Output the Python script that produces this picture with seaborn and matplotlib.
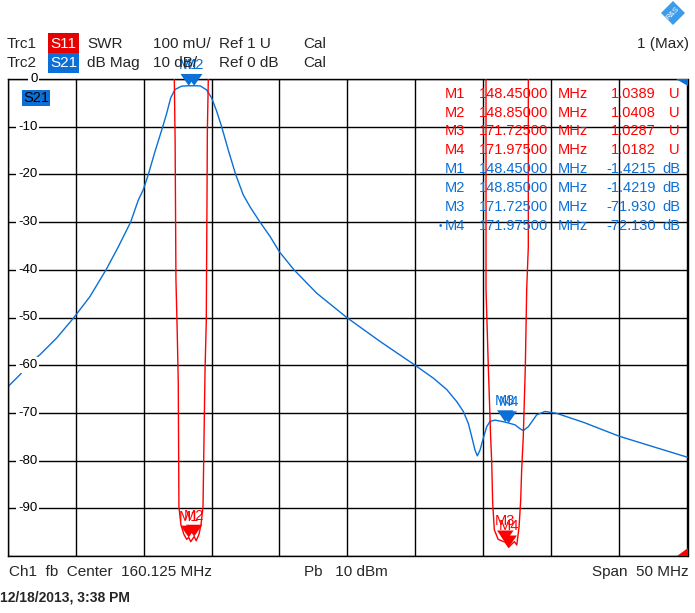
import numpy as np
import pandas as pd
import matplotlib
matplotlib.use('Agg')
import matplotlib.pyplot as plt
import seaborn as sns
from matplotlib.patches import Polygon, Rectangle

# ---- data ----
# Trc2: S21 dB Mag (frequency in MHz, level in dB)
s21_freq = [135.125, 136.04, 136.6, 137.51, 138.74, 140.01, 141.19, 142.37, 143.27, 144.18,
            144.74, 145.11, 145.48, 145.97, 146.54, 146.83, 147.12, 147.44, 147.93, 148.45,
            148.85, 149.3, 149.77, 150.14, 150.51, 150.87, 151.36, 151.9, 152.46, 152.96,
            153.69, 154.43, 155.11, 156.19, 157.86, 160.07, 162.51, 165.09, 166.43, 167.42,
            168.15, 168.64, 169.01, 169.26, 169.5, 169.67, 169.87, 170.11, 170.36, 170.6,
            170.97, 171.3, 171.725, 171.975, 172.44, 172.8, 173.05, 173.42, 174.04, 174.65,
            175.51, 177.5, 180.11, 182.5, 185.125]
s21_db = [-64.6, -62.0, -60.0, -57.8, -54.3, -50.0, -45.6, -40.0, -35.2, -30.0,
          -25.4, -23.2, -20.0, -15.2, -10.0, -7.2, -4.0, -2.2, -1.5, -1.42,
          -1.42, -1.45, -2.3, -4.0, -6.8, -10.0, -14.9, -20.0, -24.3, -26.8,
          -30.0, -33.0, -36.2, -40.0, -44.9, -50.0, -55.0, -60.0, -62.7, -65.1,
          -67.6, -69.7, -72.2, -75.0, -77.8, -79.0, -77.8, -75.3, -72.9, -71.8,
          -71.5, -71.7, -71.93, -72.13, -72.5, -73.3, -73.7, -72.9, -70.4, -69.7,
          -70.1, -72.0, -74.9, -77.0, -79.3]

# Trc1: S11 SWR, two notches (values above 2 U leave the screen)
swr1_freq = [147.3, 147.39, 147.45, 147.51, 147.61, 147.68, 147.73, 147.88, 148.1, 148.3,
             148.45, 148.6, 148.85, 149.0, 149.2, 149.35, 149.5, 149.65, 149.74, 149.79,
             149.82, 149.89, 149.98]
swr1_val = [2.6, 2.0, 1.87, 1.58, 1.463, 1.365, 1.103, 1.065, 1.045, 1.035,
            1.0389, 1.03, 1.0408, 1.032, 1.045, 1.065, 1.103, 1.39, 1.49, 1.73,
            1.89, 2.0, 2.6]
swr2_freq = [170.25, 170.31, 170.31, 170.48, 170.65, 170.73, 170.8, 170.92, 171.2, 171.45,
             171.725, 171.95, 171.975, 172.2, 172.4, 172.57, 172.74, 172.86, 172.93, 173.05,
             173.2, 173.3, 173.42, 173.42, 173.5]
swr2_val = [2.6, 2.0, 1.558, 1.396, 1.25, 1.195, 1.111, 1.055, 1.035, 1.032,
            1.0287, 1.0195, 1.0182, 1.025, 1.03, 1.023, 1.061, 1.117, 1.18, 1.25,
            1.396, 1.558, 1.648, 2.0, 2.6]

# markers
mk_names = ['M1', 'M2', 'M3', 'M4']
mk_freq = [148.45, 148.85, 171.725, 171.975]
mk_swr = [1.0389, 1.0408, 1.0287, 1.0182]
mk_db = [-1.4215, -1.4219, -71.930, -72.130]
mk_freq_txt = ['148.45000', '148.85000', '171.72500', '171.97500']
mk_swr_txt = ['1.0389', '1.0408', '1.0287', '1.0182']
mk_db_txt = ['-1.4215', '-1.4219', '-71.930', '-72.130']

ytick_vals = [0, -10, -20, -30, -40, -50, -60, -70, -80, -90]

RED = '#ff0000'
BLUE = '#0a6fd6'

sns.set_style('white')
plt.rcParams['font.family'] = ['Liberation Sans', 'DejaVu Sans']

W, H = 695, 613
fig = plt.figure(figsize=(W / 100, H / 100), dpi=100)
fig.patch.set_facecolor('white')
x0, x1, yt, yb = 7.5, 687.5, 79, 556
ax = fig.add_axes([x0 / W, 1 - yb / H, (x1 - x0) / W, (yb - yt) / H])
ax.set_xlim(135.125, 185.125)
ax.set_ylim(-100, 0)
ax.set_xticks(np.arange(135.125, 185.2, 5))
ax.set_yticks(np.arange(-100, 1, 10))
ax.grid(True, color='black', lw=1)
ax.tick_params(length=0, labelbottom=False, labelleft=False)
for sp in ax.spines.values():
    sp.set_color('black')
    sp.set_linewidth(1)

ax2 = ax.twinx()
ax2.set_ylim(1, 2)
ax2.set_yticks([])
for sp in ax2.spines.values():
    sp.set_visible(False)

s21 = pd.DataFrame({'f': s21_freq, 'db': s21_db})
sns.lineplot(data=s21, x='f', y='db', ax=ax, color=BLUE, lw=1.0, estimator=None, sort=False)
n1 = pd.DataFrame({'f': swr1_freq, 'swr': swr1_val})
n2 = pd.DataFrame({'f': swr2_freq, 'swr': swr2_val})
sns.lineplot(data=n1, x='f', y='swr', ax=ax2, color=RED, lw=1.0, estimator=None, sort=False)
sns.lineplot(data=n2, x='f', y='swr', ax=ax2, color=RED, lw=1.0, estimator=None, sort=False)

# downward triangle with its tip on the data point
tri = [(0, 0), (-0.7, 1), (0.7, 1), (0, 0)]
mk = pd.DataFrame({'f': mk_freq, 'db': mk_db, 'swr': mk_swr})
sns.scatterplot(data=mk, x='f', y='db', ax=ax, marker=tri, s=17 ** 2, color=BLUE,
                edgecolor='none', zorder=5, clip_on=False)
sns.scatterplot(data=mk, x='f', y='swr', ax=ax2, marker=tri, s=17 ** 2, color=RED,
                edgecolor='none', zorder=5, clip_on=False)
ax.set_xlabel('')
ax.set_ylabel('')
ax2.set_xlabel('')
ax2.set_ylabel('')
ax2.set_xlim(ax.get_xlim())
for name, f, d, s in zip(mk_names, mk_freq, mk_db, mk_swr):
    ax.annotate(name, (f, d), xytext=(0, 10), textcoords='offset points', ha='center',
                va='bottom', color=BLUE, fontsize=10.5, annotation_clip=False, zorder=6)
    ax2.annotate(name, (f, s), xytext=(0, 10), textcoords='offset points', ha='center',
                 va='bottom', color=RED, fontsize=10.5, annotation_clip=False, zorder=6)

# level labels inside the grid
for v in ytick_vals:
    ax.annotate(str(v), xy=(0, v), xycoords=('axes fraction', 'data'),
                xytext=(30, 0), textcoords='offset pixels', ha='right', va='center',
                fontsize=9.5, color='black', zorder=7,
                bbox=dict(boxstyle='square,pad=0.15', fc='white', ec='none'))

# S21 tag in plot
ax.text((36 - x0) / (x1 - x0), 1 - (98 - yt) / (yb - yt), 'S21',
        transform=ax.transAxes, ha='center', va='center', fontsize=10.5, color='black',
        zorder=7, bbox=dict(boxstyle='square,pad=0.1', fc=BLUE, ec='none'))

# marker table
rows_y = [94, 112.7, 131, 150, 169, 188.3, 206.7, 225.7]
for i in range(4):
    for y, col, val, unit in [(rows_y[i], RED, mk_swr_txt[i], 'U'),
                              (rows_y[i + 4], BLUE, mk_db_txt[i], 'dB')]:
        fig.text(445 / W, 1 - y / H, mk_names[i], color=col, fontsize=10.5, va='center')
        fig.text(479 / W, 1 - y / H, mk_freq_txt[i], color=col, fontsize=10.5, va='center')
        fig.text(558 / W, 1 - y / H, 'MHz', color=col, fontsize=10.5, va='center')
        fig.text(656 / W, 1 - y / H, val, color=col, fontsize=10.5, va='center', ha='right')
        fig.text(680 / W, 1 - y / H, unit, color=col, fontsize=10.5, va='center', ha='right')
fig.text(440 / W, 1 - 225.7 / H, '\u2022', color=BLUE, fontsize=7, va='center', ha='center')

# corner flags
fig.patches.append(Polygon([[676 / W, 1 - 79 / H], [688 / W, 1 - 79 / H], [688 / W, 1 - 86 / H]],
                           closed=True, transform=fig.transFigure, fc=BLUE, ec='none', zorder=8))
fig.patches.append(Polygon([[677 / W, 1 - 556 / H], [688 / W, 1 - 556 / H], [688 / W, 1 - 548 / H]],
                           closed=True, transform=fig.transFigure, fc=RED, ec='none', zorder=8))

# header
def ftext(x, y, s, **kw):
    kw.setdefault('fontsize', 11)
    kw.setdefault('va', 'center')
    fig.text(x / W, 1 - y / H, s, **kw)

fig.patches.append(Rectangle((48 / W, 1 - 53 / H), 31 / W, 20 / H, transform=fig.transFigure,
                             fc='#e60000', ec='none'))
fig.patches.append(Rectangle((48 / W, 1 - 73 / H), 31 / W, 20 / H, transform=fig.transFigure,
                             fc=BLUE, ec='none'))
ftext(7, 44, 'Trc1')
ftext(50, 44, 'S11', color='white')
ftext(87, 44, 'SWR')
ftext(153, 44, '100 mU/')
ftext(219, 44, 'Ref 1 U')
ftext(303, 44, 'Cal')
ftext(7, 63, 'Trc2')
ftext(50, 63, 'S21', color='white')
ftext(87, 63, 'dB Mag')
ftext(153, 63, '10 dB/')
ftext(219, 63, 'Ref 0 dB')
ftext(303, 63, 'Cal')
ftext(689, 44, '1 (Max)', ha='right')

# logo diamond
cx, cy, r = 673, 13, 12
fig.patches.append(Polygon([[cx / W, 1 - (cy - r) / H], [(cx + r) / W, 1 - cy / H],
                            [cx / W, 1 - (cy + r) / H], [(cx - r) / W, 1 - cy / H]],
                           closed=True, transform=fig.transFigure, fc='#3d9be9', ec='none'))
ftext(cx, cy, 'R&S', color='white', fontsize=5.5, ha='center', rotation=45)

# footer
ftext(9, 572, 'Ch1  fb  Center  160.125 MHz')
ftext(304, 572, 'Pb   10 dBm')
ftext(689, 572, 'Span  50 MHz', ha='right')
ftext(0, 597, '12/18/2013, 3:38 PM', fontsize=10, fontweight='bold')

fig.savefig('out.png', dpi=100, facecolor='white')
